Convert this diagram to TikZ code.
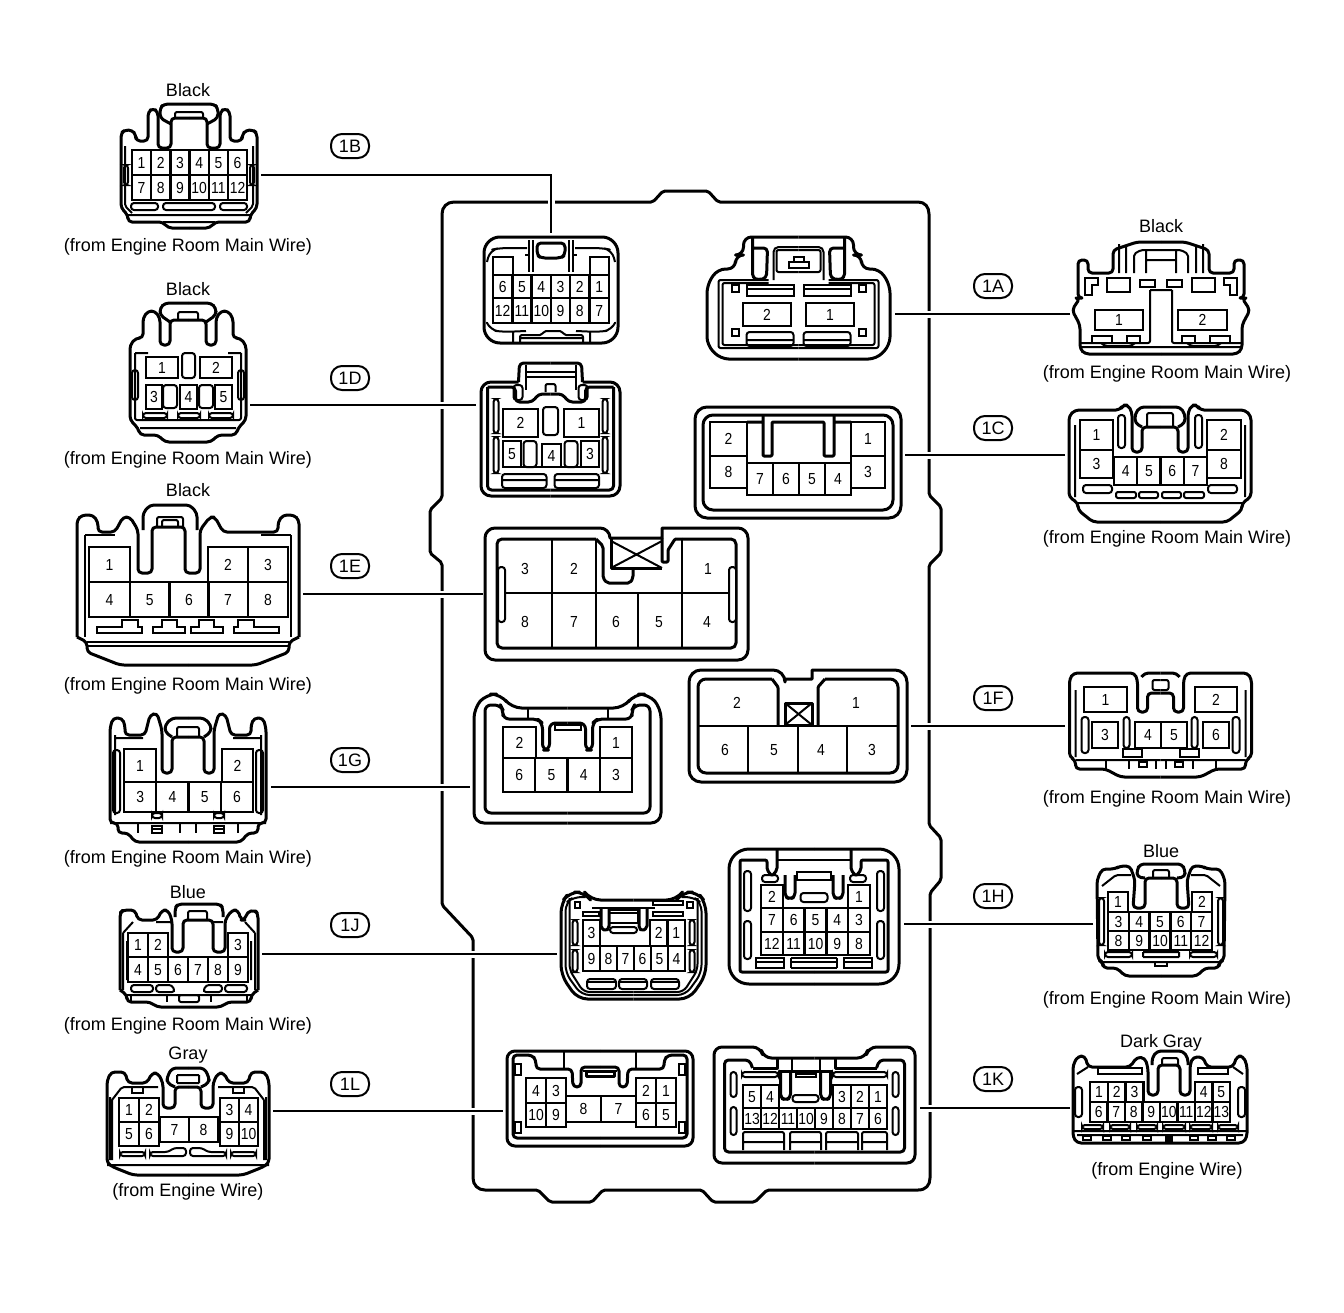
\documentclass[tikz,border=0pt]{standalone}
\usepackage{fontspec}
\setmainfont{Liberation Sans}
\newfontfamily\pinfam[FakeStretch=0.87]{Liberation Sans}
\newcommand{\pinfont}{\pinfam\fontsize{8}{9}\selectfont}
\tikzset{%
  body/.style={line width=1.5pt, rounded corners=2pt, line join=round},
  fine/.style={line width=1pt, rounded corners=1pt, line join=round},
  flat/.style={line width=1pt, sharp corners},
  slot/.style={line width=1pt, rounded corners=1.5pt},
  pin/.style={draw, line width=1.2pt, inner sep=0pt, outer sep=0pt, text height=5.7pt, text depth=0pt, font=\pinfont},
  tag/.style={inner sep=0pt, font=\fontsize{9}{11}\selectfont},
  badge/.style={draw, line width=1pt, rounded corners=5.5pt, minimum width=19pt, minimum height=12pt, inner sep=0pt, font=\fontsize{9}{11}\selectfont},
  lead/.style={line width=1pt, preaction={draw=white, line width=3.5pt}},
}
\newcommand{\pinrow}[6]{%
  \foreach \l [count=\i from 0] in {#6}
  \node [pin, minimum width=#4*0.5pt, minimum height=#5*0.5pt] (#1-\l) at ({#2+(\i+0.5)*#4},{#3+0.5*#5}) {\l};
}
\newcommand{\pinbox}[6]{%
  \node [pin, minimum width={(#4-#2)*0.5pt}, minimum height={(#5-#3)*0.5pt}] (#1) at ({(#2+#4)/2},{(#3+#5)/2}) {#6};
}
\newcommand{\bothsides}[1]{%
  \foreach \s in {1,-1} {\begin{scope}[xscale=\s]#1\end{scope}}
}
\begin{document}
\begin{tikzpicture}[x=0.5pt, y=-0.5pt]
  \useasboundingbox (0,0) rectangle (1344,1312);

  % housing
  \draw [body, rounded corners=1pt] (442,216) .. controls (442,207) and (447,202) .. (456,202) -- (653,202) -- (663,191) -- (708,191) -- (718,202)
    -- (916,202) .. controls (925,202) and (929,207) .. (929,216) -- (929,495) -- (941,507) -- (941,553) -- (929,565) -- (929,825) -- (941,838) -- (941,880)
    -- (930,893) -- (930,1176) .. controls (930,1185) and (926,1190) .. (916,1190) -- (767,1190) -- (755,1202) -- (713,1202) -- (702,1190) -- (603,1190) -- (592,1202)
    -- (550,1202) -- (538,1190) -- (487,1190) .. controls (478,1190) and (473,1185) .. (473,1176) -- (473,938) -- (442,905) -- (442,563) -- (430,553) -- (430,510)
    -- (442,498) -- cycle;

  % 1B plug
  \begin{scope}[shift={(189,0)}]
    \bothsides{
      \draw [body] (0,228) -- (21,228) -- (26,222) -- (61,222) -- (61,215) -- (68,208) -- (68,133) -- (64,130) -- (57,130)
        -- (53,135) -- (53,141) -- (41,141) -- (41,112) -- (36,108) -- (31,112) -- (31,148) -- (18,148) -- (18,118) -- (0,118);
      \draw [body] (0,104) -- (25,104) -- (29,108) -- (29,118) -- (18,124);
      \draw [fine] (0,215) -- (61,215) (64,146) -- (64,206) -- (57,213) (0,222) -- (26,222) (0,112) -- (14,112) -- (14,118);
      \draw [slot] (61,165) rectangle (65,185) (31,203) rectangle (58,210) (0,203) -- (26,203) -- (26,210) -- (0,210);
    }
  \end{scope}
  \pinrow{p1b}{132}{150}{19.2}{25}{1,2,3,4,5,6}
  \pinrow{p1b}{132}{175}{19.2}{25}{7,8,9,10,11,12}
  \node [tag] (c1b) at (188,90) {Black};
  \node [tag] (s1b) at (188,247) {(from Engine Room Main Wire)};
  \node [badge] (b1b) at (350,146) {1B};
  \coordinate (l1b) at (261,175);

  % 1D plug
  \begin{scope}[shift={(188,0)}]
    \bothsides{
      \draw [body] (0,442) -- (23,442) -- (30,435) -- (48,435) -- (50,428) -- (58,420) -- (58,345) -- (52,338) -- (45,338) -- (45,318)
        -- (40,311) -- (33,311) -- (28,318) -- (28,345) -- (18,345) -- (18,320) -- (0,320);
      \draw [body] (0,303) -- (23,303) -- (28,308) -- (28,315) -- (18,322);
      \draw [fine] (53,353) -- (40,353) (53,353) -- (53,420) -- (0,420) (0,312) -- (10,312) -- (10,320) (0,428) -- (48,428);
      \draw [slot] (50,370) rectangle (56,400) (25,385) rectangle (11,408) (45,413) rectangle (21,418);
    }
    \draw [slot] (-6,353) rectangle (7,378) (-10,413) rectangle (12,418);
  \end{scope}
  \pinbox{p1d-1}{146}{357}{178}{378}{1}
  \pinbox{p1d-2}{200}{357}{232}{378}{2}
  \pinbox{p1d-3}{146}{385}{162}{409}{3}
  \pinbox{p1d-4}{180}{385}{197}{409}{4}
  \pinbox{p1d-5}{215}{385}{232}{409}{5}
  \node [tag] (c1d) at (188,289) {Black};
  \node [tag] (s1d) at (188,460) {(from Engine Room Main Wire)};
  \node [badge] (b1d) at (350,378) {1D};
  \coordinate (l1d) at (250,405);

  % 1E plug
  \draw [body] (77,637) -- (77,520) -- (82,515) -- (93,515) -- (98,522) -- (98,532) -- (115,532) -- (123,517) -- (130,517) -- (138,530) -- (138,573)
    -- (152,573) -- (152,527) -- (185,527) -- (185,573) -- (200,573) -- (200,530) -- (210,517) -- (215,517) -- (223,532) -- (278,532) -- (278,522)
    -- (283,515) -- (294,515) -- (299,520) -- (299,637);
  \draw [body] (143,530) -- (143,513) -- (150,505) -- (190,505) -- (197,513) -- (197,530);
  \draw [fine] (157,527) -- (157,517) -- (183,517) -- (183,527) (162,527) -- (162,520) -- (178,520) -- (178,527);
  \begin{scope}[shift={(188,0)}]
    \bothsides{
      \draw [body] (0,665) -- (68,665) -- (101,652) -- (101,642) -- (111,637);
      \draw [fine] (103,535) -- (73,535) (103,535) -- (103,637) (0,642) -- (101,642) (0,646) -- (101,646);
      \draw [flat] (91,627) -- (66,627) -- (66,620) -- (50,620) -- (50,627) -- (46,627) -- (46,633) -- (91,633) -- cycle;
      \draw [flat] (35,633) -- (35,627) -- (26,627) -- (26,620) -- (11,620) -- (11,627) -- (3,627) -- (3,633) -- cycle;
    }
  \end{scope}
  \pinbox{p1e-1}{89}{547}{130}{582}{1}
  \pinbox{p1e-2}{208}{547}{248}{582}{2}
  \pinbox{p1e-3}{248}{547}{288}{582}{3}
  \pinbox{p1e-4}{89}{582}{130}{617}{4}
  \pinrow{p1e}{130}{582}{39.3}{35}{5,6}
  \pinrow{p1e}{208}{582}{40}{35}{7,8}
  \node [tag] (c1e) at (188,490) {Black};
  \node [tag] (s1e) at (188,686) {(from Engine Room Main Wire)};
  \node [badge] (b1e) at (350,566) {1E};
  \coordinate (l1e) at (303,594);

  % 1G plug
  \begin{scope}[shift={(188,0)}]
    \bothsides{
      \draw [body] (0,842) -- (53,842) -- (60,833) -- (70,833) -- (70,823) -- (78,823) -- (78,728) -- (75,718) -- (66,718) -- (63,725) -- (63,735)
        -- (43,735) -- (38,715) -- (31,713) -- (26,730) -- (26,773) -- (16,773) -- (16,737) -- (0,737);
      \draw [body] (0,718) -- (16,718) -- (23,725) -- (23,732) -- (16,737);
      \draw [fine] (0,823) -- (78,823) (73,735) -- (73,815) (45,738) -- (72,738) (0,727) -- (11,727) -- (11,737);
      \draw [slot] (68,750) rectangle (75,813) (36,813) rectangle (26,818);
      \draw [flat] (36,826) rectangle (26,833) (36,829) -- (26,829) (8,823) -- (8,833) (50,823) -- (50,833);
    }
  \end{scope}
  \pinbox{p1g-1}{124}{749}{156}{782}{1}
  \pinbox{p1g-2}{222}{749}{253}{782}{2}
  \pinrow{p1g}{124}{782}{32.25}{30}{3,4,5,6}
  \node [tag] (s1g) at (188,859) {(from Engine Room Main Wire)};
  \node [badge] (b1g) at (350,760) {1G};
  \coordinate (l1g) at (271,787);

  % 1J plug
  \draw [body] (120,990) -- (120,913) -- (123,910) -- (135,910) -- (138,920) -- (157,920) -- (162,910) -- (168,910) -- (172,920) -- (172,952) -- (183,952)
    -- (183,920) -- (213,920) -- (213,952) -- (225,952) -- (225,920) -- (232,910) -- (238,910) -- (241,920) -- (245,920) -- (247,912) -- (255,910) -- (258,914) -- (258,990);
  \draw [body] (175,917) -- (175,908) -- (178,904) -- (220,904) -- (223,908) -- (223,917);
  \draw [fine] (188,920) -- (188,911) -- (207,911) -- (207,920);
  \begin{scope}[shift={(189,0)}]
    \bothsides{
      \draw [body] (0,1007) -- (32,1007) -- (39,1002) -- (62,1002) -- (62,995) -- (69,990);
      \draw [fine] (66,933) -- (56,922) (66,933) -- (66,990) (0,995) -- (62,995) (62,941) -- (62,980);
      \draw [slot] (58,992) -- (58,985) -- (36,985) -- (36,992) -- cycle (33,992) -- (33,985) -- (17,985) -- (14,992) -- cycle;
      \draw [fine] (58,995) -- (58,1002) (22,995) -- (22,1002);
    }
    \draw [fine] (-10,995) rectangle (10,1002) (-33,922) -- (-18,922) (24,922) -- (34,922);
  \end{scope}
  \pinrow{p1j}{128}{933}{20}{24}{1,2}
  \pinbox{p1j-3}{228}{933}{248}{957}{3}
  \pinrow{p1j}{128}{957}{20}{25}{4,5,6,7,8,9}
  \node [tag] (c1j) at (188,892) {Blue};
  \node [tag] (s1j) at (188,1026) {(from Engine Room Main Wire)};
  \node [badge] (b1j) at (350,925) {1J};
  \coordinate (l1j) at (262,954);

  % 1L plug
  \begin{scope}[shift={(188,0)}]
    \bothsides{
      \draw [body] (0,1175) -- (55,1175) -- (75,1167) -- (81,1163) -- (81,1081) -- (77,1072) -- (63,1072) -- (60,1083) -- (41,1083) -- (36,1073) -- (30,1073)
        -- (25,1083) -- (25,1108) -- (13,1108) -- (13,1087) -- (0,1087);
      \draw [body] (0,1068) -- (16,1068) -- (21,1077) -- (21,1083) -- (13,1087);
      \draw [fine] (0,1165) -- (81,1165) (76,1100) -- (66,1087) -- (30,1087) (76,1100) -- (76,1160) (78,1097) -- (78,1160) (0,1083) -- (11,1083) (11,1075) -- (0,1075) (11,1075) -- (11,1083);
      \draw [flat] (56,1087) -- (56,1093) -- (45,1093) -- (45,1087);
      \draw [slot] (68,1152) rectangle (43,1156);
      \draw [slot] (38,1156) -- (2,1156) -- (2,1148) -- (14,1148) -- (20,1152) -- (38,1152) -- cycle;
    }
  \end{scope}
  \pinrow{p1l}{119}{1098}{20}{24}{1,2}
  \pinrow{p1l}{119}{1122}{20}{24}{5,6}
  \pinrow{p1l}{220}{1098}{19}{24}{3,4}
  \pinrow{p1l}{220}{1122}{19}{24}{9,10}
  \pinrow{p1l}{160}{1117}{29}{25}{7,8}
  \node [tag] (c1l) at (188,1055) {Gray};
  \node [tag] (s1l) at (188,1192) {(from Engine Wire)};
  \node [badge] (b1l) at (350,1084) {1L};
  \coordinate (l1l) at (273,1111);

  % 1A plug
  \begin{scope}[shift={(1161,0)}]
    \bothsides{
      \draw [body] (0,354) -- (76,354) -- (81,349) -- (81,325) -- (89,310) -- (81,298) -- (83,298) -- (83,260) -- (73,260) -- (73,273) -- (48,273) -- (48,250) -- (24,242) -- (0,242);
      \draw [fine] (0,347) -- (81,347) (11,290) -- (0,290) (11,290) -- (11,343) -- (81,343) (0,260) -- (15,260) (0,250) -- (20,250) -- (27,254) -- (27,273) (15,250) -- (15,273) (35,246) -- (35,273) (42,244) -- (42,273);
      \draw [flat] (31,278) rectangle (54,292) (6,280) rectangle (21,287);
      \draw [flat] (76,278) -- (63,278) -- (63,285) -- (69,285) -- (69,295) -- (76,295) -- cycle;
      \draw [flat] (49,336) rectangle (69,343) (21,336) rectangle (34,343);
      \draw [fine] (60,343) -- (56,346) -- (30,346) -- (26,343);
    }
  \end{scope}
  \pinbox{p1a-1}{1095}{310}{1143}{330}{1}
  \pinbox{p1a-2}{1178}{310}{1227}{330}{2}
  \node [tag] (c1a) at (1161,226) {Black};
  \node [tag] (s1a) at (1167,374) {(from Engine Room Main Wire)};
  \node [badge] (b1a) at (993,286) {1A};
  \coordinate (l1a) at (1070,314);

  % 1C plug
  \begin{scope}[shift={(1160,0)}]
    \bothsides{
      \draw [body] (0,522) -- (67,522) -- (82,510) -- (82,503) -- (91,497) -- (91,416) -- (85,410) -- (40,410) -- (37,405) -- (32,405) -- (28,412) -- (28,452) -- (18,452) -- (18,427) -- (0,427);
      \draw [body] (0,407) -- (20,407) -- (25,414) -- (25,423) -- (18,427);
      \draw [fine] (0,503) -- (82,503) (85,425) -- (85,497) (0,413) -- (13,413) -- (13,427);
      \draw [slot] (42,415) rectangle (35,448) (77,485) rectangle (48,493);
      \draw [fine] (44,492) rectangle (24,498) (21,492) rectangle (2,498);
    }
  \end{scope}
  \pinbox{p1c-1}{1080}{420}{1113}{450}{1}
  \pinbox{p1c-3}{1080}{450}{1113}{478}{3}
  \pinbox{p1c-2}{1207}{420}{1241}{450}{2}
  \pinbox{p1c-8}{1207}{450}{1241}{478}{8}
  \pinrow{p1c}{1114}{457}{23.25}{28}{4,5,6,7}
  \node [tag] (s1c) at (1167,539) {(from Engine Room Main Wire)};
  \node [badge] (b1c) at (993,428) {1C};
  \coordinate (l1c) at (1065,455);

  % 1F plug
  \begin{scope}[shift={(1160.5,0)}]
    \bothsides{
      \draw [body] (0,777) -- (40,777) -- (55,769) -- (85,769) -- (85,760) -- (91,757) -- (91,679) -- (87,673) -- (26,673) -- (23,680) -- (23,712) -- (13,712) -- (13,693) -- (0,693);
      \draw [body] (0,673) -- (16,673) -- (19,677);
      \draw [fine] (0,760) -- (85,760) (85,690) -- (85,757) (0,680) -- (8,680) -- (8,690) -- (0,690);
      \draw [slot] (72,717) rectangle (79,753) (31,717) rectangle (37,748);
      \draw [flat] (19,749) rectangle (38,757);
      \draw [flat] (55,760) -- (55,769) (32,760) -- (32,769) (22,762) rectangle (14,767) (5,760) -- (5,769);
    }
  \end{scope}
  \pinbox{p1f-1}{1084}{687}{1127}{712}{1}
  \pinbox{p1f-2}{1195}{687}{1237}{712}{2}
  \pinbox{p1f-3}{1092}{722}{1118}{748}{3}
  \pinrow{p1f}{1135}{722}{26}{26}{4,5}
  \pinbox{p1f-6}{1203}{722}{1229}{748}{6}
  \node [tag] (s1f) at (1167,799) {(from Engine Room Main Wire)};
  \node [badge] (b1f) at (993,698) {1F};
  \coordinate (l1f) at (1065,726);

  % 1H plug
  \begin{scope}[shift={(1161,0)}]
    \bothsides{
      \draw [body] (0,976) -- (36,976) -- (44,968) -- (58,968) -- (58,962) -- (63,960) -- (64,880) -- (59,869) -- (46,869) -- (41,866) -- (31,866) -- (26,880) -- (28,908) -- (16,908) -- (16,878) -- (0,878);
      \draw [body] (0,864) -- (21,864) -- (24,870) -- (24,877) -- (16,878);
      \draw [fine] (0,962) -- (58,962) (0,870) -- (8,870) -- (8,877) (59,886) -- (45,875) -- (30,875);
      \draw [slot] (57,898) rectangle (62,945) (56,952) rectangle (29,957) (18,952) -- (0,952) (18,957) -- (0,957) (18,952) -- (18,957);
    }
    \draw [flat] (-6,962) rectangle (6,966);
  \end{scope}
  \pinbox{p1h-1}{1108}{892}{1128}{912}{1}
  \pinbox{p1h-2}{1192}{892}{1212}{912}{2}
  \pinrow{p1h}{1108}{912}{20.8}{19}{3,4,5,6,7}
  \pinrow{p1h}{1108}{931}{20.8}{19}{8,9,10,11,12}
  \node [tag] (c1h) at (1161,851) {Blue};
  \node [tag] (s1h) at (1167,1000) {(from Engine Room Main Wire)};
  \node [badge] (b1h) at (993,896) {1H};
  \coordinate (l1h) at (1093,924);

  % 1K plug
  \draw [body] (1073,1137) -- (1073,1065) -- (1078,1056) -- (1085,1056) -- (1088,1067) -- (1130,1067) -- (1137,1057) -- (1145,1058) -- (1148,1068)
    -- (1148,1095) -- (1158,1095) -- (1158,1065) -- (1180,1065) -- (1180,1095) -- (1190,1095) -- (1190,1065) -- (1193,1057) -- (1203,1057) -- (1207,1067)
    -- (1233,1067) -- (1237,1056) -- (1243,1056) -- (1247,1065) -- (1247,1137) -- (1243,1143) -- (1077,1143) -- cycle;
  \draw [body] (1152,1065) -- (1152,1058) -- (1157,1051) -- (1183,1051) -- (1188,1058) -- (1188,1065);
  \draw [fine] (1073,1131) -- (1247,1131) (1077,1135) -- (1243,1135) (1162,1065) -- (1162,1058) -- (1178,1058) -- (1178,1065) (1077,1074) -- (1088,1067) (1243,1074) -- (1233,1067);
  \draw [slot] (1075,1087) rectangle (1082,1117) (1238,1087) rectangle (1245,1117);
  \draw [flat] (1098,1068) rectangle (1142,1074) (1198,1068) rectangle (1228,1074);
  \foreach \a/\b in {1082/1103,1110/1130,1137/1157,1163/1185,1190/1212,1218/1238}
  \draw [slot] (\a,1125) rectangle (\b,1129);
  \foreach \a in {1083,1103,1122,1143,1190,1208,1227}
  \draw [flat] (\a,1136) rectangle ++(8,4);
  \draw [flat, fill=black] (1166,1135) rectangle (1172,1143);
  \pinrow{p1k}{1090}{1082}{17.8}{20}{1,2,3}
  \pinrow{p1k}{1195}{1082}{17.5}{20}{4,5}
  \pinrow{p1k}{1090}{1102}{17.5}{20}{6,7,8,9,10,11,12,13}
  \node [tag] (c1k) at (1161,1043) {Dark Gray};
  \node [tag] (s1k) at (1167,1171) {(from Engine Wire)};
  \node [badge] (b1k) at (993,1079) {1K};
  \coordinate (l1k) at (1070,1108);

  % 1B socket
  \draw [body, rounded corners=8pt] (484,237) rectangle (618,343);
  \draw [fine, rounded corners=4pt] (487,262) -- (490,250) -- (500,248) -- (527,248) (615,262) -- (612,250) -- (602,248) -- (575,248);
  \draw [fine, rounded corners=4pt] (487,323) -- (490,330) -- (503,332) -- (526,331) (615,323) -- (612,330) -- (599,332) -- (576,331);
  \draw [fine] (529,240) -- (529,272) (573,240) -- (573,272) (533,240) -- (533,272) (569,240) -- (569,272) (525,255) -- (529,255) (573,255) -- (577,255);
  \draw [body] (537,243) -- (537,255) -- (541,258) -- (561,258) -- (565,255) -- (565,243) -- cycle;
  \draw [fine] (513,331) -- (513,343) (590,331) -- (590,343) (520,343) -- (520,335) -- (542,335) -- (544,331) -- (562,331) -- (564,335) -- (583,335) -- (583,343) (520,338) -- (583,338);
  \pinbox{i1b-a}{493}{257}{513}{275}{}
  \pinbox{i1b-b}{590}{257}{609}{275}{}
  \pinrow{i1b}{493}{275}{19.3}{23}{6,5,4,3,2,1}
  \pinrow{i1b}{493}{298}{19.3}{25}{12,11,10,9,8,7}

  % 1A socket
  \begin{scope}[shift={(798.5,0)}]
    \bothsides{
      \draw [body, rounded corners=4pt] (0,359) -- (78,359) -- (91.5,345) -- (91.5,285) -- (81,269) -- (63,269) -- (63,255) -- (55,255) -- (55,237) -- (0,237);
      \draw [body] (46,237) -- (46,278) -- (40,280) -- (32,278) -- (31,248) -- (46,248);
      \draw [fine] (30,280) -- (80,280) -- (80,348) -- (0,348) (30,283) -- (76,283) -- (76,345) -- (0,345);
      \draw [fine] (0,247) -- (22,247) -- (25,250) -- (25,280) (0,250) -- (22,250) -- (22,272) -- (0,272);
      \draw [flat] (0,257) -- (5,257) -- (5,262) (0,262) -- (10,262) -- (10,268) -- (0,268);
      \draw [flat] (5,285) rectangle (52,296) (5,289) -- (52,289);
      \draw [slot] (5,332) rectangle (52,346) (5,340) -- (52,340);
      \draw [flat] (60,285) rectangle (67,292) (60,329) rectangle (67,336);
    }
  \end{scope}
  \pinbox{i1a-2}{743}{303}{791}{326}{2}
  \pinbox{i1a-1}{806}{303}{854}{326}{1}

  % 1D socket
  \begin{scope}[shift={(550.5,0)}]
    \bothsides{
      \draw [body, rounded corners=5pt] (0,496) -- (69.5,496) -- (69.5,382) -- (32,382);
      \draw [body] (32,382) -- (31,363) -- (0,363);
      \draw [body] (63,387) -- (63,490) -- (0,490) (63,387) -- (35,387) -- (35,402) -- (18,402) -- (12,394) -- (0,394);
      \draw [fine] (0,372) -- (25,372) (0,377) -- (25,377) (25,365) -- (25,390);
      \draw [slot] (28,385) rectangle (37,400) (52,399) rectangle (57,433) (52,437) rectangle (57,473);
      \draw [slot] (48.5,474) rectangle (4,488) (48.5,480) -- (4,480);
      \draw [slot] (14,441) rectangle (27,467);
      \draw [fine] (0,467) -- (31,467);
    }
    \draw [fine] (-5,392) -- (-5,384) -- (5,384) -- (5,392);
    \draw [slot] (-7.5,407) rectangle (7.5,435);
  \end{scope}
  \pinbox{i1d-2}{503}{409}{538}{437}{2}
  \pinbox{i1d-1}{564}{409}{599}{437}{1}
  \pinbox{i1d-5}{503}{441}{521}{467}{5}
  \pinbox{i1d-4}{542}{444}{561}{467}{4}
  \pinbox{i1d-3}{581}{441}{599}{467}{3}

  % 1C socket
  \draw [body, rounded corners=6pt] (695,407) rectangle (901,518);
  \draw [body, rounded corners=5pt] (703,415) rectangle (893,510);
  \draw [body, rounded corners=0.5pt] (747,422) -- (763,422) (763,415) -- (763,456) -- (772,456) -- (772,422) -- (824,422) -- (824,456) -- (834,456) -- (834,415) (834,422) -- (851,422);
  \pinbox{i1c-2}{710}{422}{747}{456}{2}
  \pinbox{i1c-8}{710}{456}{747}{488}{8}
  \pinbox{i1c-1}{851}{422}{885}{456}{1}
  \pinbox{i1c-3}{851}{456}{885}{488}{3}
  \pinrow{i1c}{747}{463}{26}{32}{7,6,5,4}

  % 1E socket
  \draw [body, rounded corners=5pt] (662,528) -- (748,528) -- (748,660) -- (485,660) -- (485,528) -- (610,528) [sharp corners] -- (610,538) -- (662,538) -- cycle;
  \draw [body, rounded corners=2.5pt] (596,539) -- (497,539) -- (497,648) -- (736,648) -- (736,539) -- (682,539);
  \draw [body, rounded corners=1pt] (596,539) -- (603,546) -- (603,578) -- (607,583) -- (630,583) -- (633,578) -- (633,568);
  \draw [body, rounded corners=0.5pt] (662,538) -- (662,562) -- (668,562) -- (668,550) -- (675,539) -- (682,539);
  \draw [body, sharp corners] (611,538) -- (611,568) -- (662,568);
  \draw [fine] (611,541) -- (662,568) (611,568) -- (662,541);
  \draw [slot, fill=white] (498,567) rectangle (505,622) (729,567) rectangle (736,622);
  \draw [pin] (505,593) -- (729,593) (552,539) -- (552,648) (596,539) -- (596,648) (682,539) -- (682,648) (638,593) -- (638,648);
  \node [pin, draw=none] (i1e-3) at (525,569) {3};
  \node [pin, draw=none] (i1e-2) at (574,569) {2};
  \node [pin, draw=none] (i1e-1) at (708,569) {1};
  \foreach \l/\x in {8/525,7/574,6/616,5/659,4/707}
  \node [pin, draw=none] (i1e-\l) at (\x,622) {\l};

  % 1F socket
  \draw [body, rounded corners=6pt] (812,670) -- (907,670) -- (907,782) -- (689,782) -- (689,670) -- (785,670) [sharp corners] -- (785,679) -- (812,679) -- cycle;
  \draw [body, rounded corners=4pt] (772,679) -- (698,679) -- (698,773) -- (898,773) -- (898,679) -- (825,679);
  \draw [body, rounded corners=0.5pt] (772,679) -- (778,687) -- (778,726) (825,679) -- (818,687) -- (818,726);
  \draw [body, sharp corners] (785,703) rectangle (812,725);
  \draw [fine] (785,703) -- (812,725) (785,725) -- (812,703);
  \draw [pin] (698,726) -- (898,726) (748,726) -- (748,773) (798,726) -- (798,773) (847,726) -- (847,773);
  \foreach \l/\x in {2/737,1/856}
  \node [pin, draw=none] (i1f-\l) at (\x,703) {\l};
  \foreach \l/\x in {6/725,5/774,4/821,3/872}
  \node [pin, draw=none] (i1f-\l) at (\x,750) {\l};

  % 1G socket
  \begin{scope}[shift={(567.5,0)}]
    \bothsides{
      \draw [body, rounded corners=5pt] (0,823) -- (93.5,823) -- (93.5,708) -- (81,694) -- (67,694) -- (56,708) -- (0,708);
      \draw [body, rounded corners=3pt] (0,813) -- (82.5,813) -- (82.5,705) -- (67,705) -- (64.5,710) -- (64.5,719) -- (30,719) -- (25,723) -- (25,750) -- (18,750) -- (18,723) -- (0,723);
      \draw [fine] (40,708) -- (40,719);
    }
    \draw [flat] (-13,725) rectangle (13,730);
  \end{scope}
  \pinbox{i1g-2}{503}{727}{536}{758}{2}
  \pinbox{i1g-1}{600}{727}{632}{758}{1}
  \pinrow{i1g}{503}{758}{32.25}{34}{6,5,4,3}

  % 1J socket
  \begin{scope}[shift={(633.5,0)}]
    \bothsides{
      \draw [body, rounded corners=5pt] (0,999) -- (56,999) -- (72.5,975) -- (72.5,903) -- (64,892) -- (49,892) -- (43,900) -- (0,900);
      \draw [fine, rounded corners=4pt] (0,995) -- (52,995) -- (68,973) -- (68,903) -- (60,897) -- (48,897);
      \draw [fine, rounded corners=3pt] (0,992) -- (50,992) -- (64,970) -- (64,898);
      \draw [flat] (53.5,902) rectangle (59,908);
      \draw [slot] (56,920) rectangle (61,945) (56,950) rectangle (61,972);
    }
    \draw [flat] (-24.5,910) rectangle (4.5,923) (-24.5,913) -- (4.5,913);
    \draw [slot] (-23.5,927) rectangle (3.5,933) (-46.5,979) rectangle (-17.5,989) (-14.5,979) rectangle (13.5,989) (17.5,979) rectangle (45.5,989);
    \draw [flat] (-46.5,982) -- (-17.5,982) (-14.5,982) -- (13.5,982) (17.5,982) -- (45.5,982);
    \draw [flat] (-50.5,912) rectangle (-34.5,916) (19.5,901) rectangle (49.5,905) (19.5,912) rectangle (49.5,916);
    \draw [fine] (-41.5,908) -- (21.5,908);
  \end{scope}
  \begin{scope}[shift={(624,0)}]
    \bothsides{
      \draw [body, rounded corners=1pt] (23,908) -- (23,928) -- (18,931) -- (15,928) -- (15,908);
    }
  \end{scope}
  \pinbox{i1j-3}{583}{920}{600}{946}{3}
  \pinrow{i1j}{650}{920}{17.5}{26}{2,1}
  \pinrow{i1j}{583}{946}{17}{25}{9,8,7,6,5,4}

  % 1H socket
  \begin{scope}[shift={(814,0)}]
    \bothsides{
      \draw [body, rounded corners=10pt] (0,984) -- (85,984) -- (85,849) -- (0,849);
      \draw [body, rounded corners=1pt] (0,972) -- (74,972) -- (74,860) -- (47,860) -- (47,870) -- (42,876) -- (37,870) -- (37,849);
      \draw [fine] (0,860) -- (37,860);
      \draw [body, rounded corners=2pt] (29,875) -- (29,897) -- (24,899) -- (19,897) -- (19,875);
      \draw [slot] (36,875) rectangle (52,882) (63,871) rectangle (70,911) (63,921) rectangle (70,959);
      \draw [flat] (30,958) rectangle (58,968) (30,962) -- (58,962);
      \draw [flat] (23,958) -- (0,958) (23,968) -- (0,968) (23,958) -- (23,968);
      \draw [flat] (0,872) -- (17,872) -- (17,880) -- (0,880) (0,962) -- (23,962);
    }
    \draw [slot] (-13.5,893) rectangle (13.5,902);
  \end{scope}
  \pinbox{i1h-2}{761}{885}{783}{908}{2}
  \pinbox{i1h-1}{848}{885}{870}{908}{1}
  \pinrow{i1h}{761}{908}{21.8}{24}{7,6,5,4,3}
  \pinrow{i1h}{761}{932}{21.8}{23}{12,11,10,9,8}

  % 1L socket
  \begin{scope}[shift={(600,0)}]
    \bothsides{
      \draw [body, rounded corners=4pt] (0,1146) -- (93,1146) -- (93,1051) -- (0,1051);
      \draw [body, rounded corners=2pt] (0,1138) -- (87,1138) -- (87,1055) -- (68,1055) -- (64,1060) -- (64,1069) -- (28,1069) -- (27,1087) -- (19,1087) -- (19,1067) -- (0,1067);
      \draw [fine] (36,1051) -- (36,1069) (0,1071) -- (17,1071);
      \draw [flat] (79,1064) rectangle (85,1075) (79,1122) rectangle (85,1133);
    }
    \draw [body, sharp corners] (-14,1071) rectangle (14,1076);
  \end{scope}
  \pinrow{i1l}{526}{1078}{20}{25}{4,3}
  \pinrow{i1l}{526}{1103}{20}{24}{10,9}
  \pinrow{i1l}{636}{1078}{20}{25}{2,1}
  \pinrow{i1l}{636}{1103}{20}{24}{6,5}
  \pinrow{i1l}{566}{1096}{35}{26}{8,7}

  % 1K socket
  \begin{scope}[shift={(814.5,0)}]
    \bothsides{
      \draw [body, rounded corners=4pt] (0,1163) -- (100.5,1163) -- (100.5,1047) -- (54,1047) -- (51,1058) -- (0,1058);
      \draw [body, rounded corners=2pt] (0,1152) -- (90,1152) -- (90,1060) -- (65,1060) -- (62,1068);
      \draw [slot] (78,1072) rectangle (84,1097) (78,1107) rectangle (84,1135);
    }
  \end{scope}
  \draw [body, sharp corners] (752.5,1068) -- (777,1068) -- (777,1058) (877,1068) -- (835,1068) -- (835,1058);
  \draw [slot] (742,1072) rectangle (778,1077) (833,1072) rectangle (887,1077);
  \begin{scope}[shift={(805.5,0)}]
    \bothsides{
      \draw [body, rounded corners=2pt] (25,1071) -- (25,1098) -- (20,1100) -- (15,1098) -- (15,1071);
      \draw [fine] (14,1058) -- (14,1071);
    }
    \draw [body, sharp corners] (-27,1071) -- (27,1071);
    \draw [flat] (-10,1074) rectangle (10,1077);
    \draw [slot] (-13,1095) rectangle (13,1102);
  \end{scope}
  \pinrow{i1k}{743}{1085}{18}{23}{5,4}
  \pinrow{i1k}{833}{1085}{18}{23}{3,2,1}
  \pinrow{i1k}{743}{1108}{18}{21}{13,12,11,10,9,8,7,6}
  \foreach \a/\b in {743/784,790/821,826/858,862/887}
  \draw [fine] (\a,1150) -- (\a,1132) -- (\b,1132) -- (\b,1150) (\a,1142) -- (\b,1142);

  % leaders
  \coordinate (t1b) at (551,233);
  \coordinate (t1d) at (476,405);
  \coordinate (t1e) at (483,594);
  \coordinate (t1g) at (470,787);
  \coordinate (t1j) at (557,954);
  \coordinate (t1l) at (503,1111);
  \coordinate (t1a) at (895,314);
  \coordinate (t1c) at (905,455);
  \coordinate (t1f) at (911,726);
  \coordinate (t1h) at (904,924);
  \coordinate (t1k) at (920,1108);
  \draw [lead] (l1b) -| (t1b);
  \foreach \n in {1d,1e,1g,1j,1l,1a,1c,1f,1h,1k}
  \draw [lead] (l\n) -- (t\n);
\end{tikzpicture}
\end{document}
